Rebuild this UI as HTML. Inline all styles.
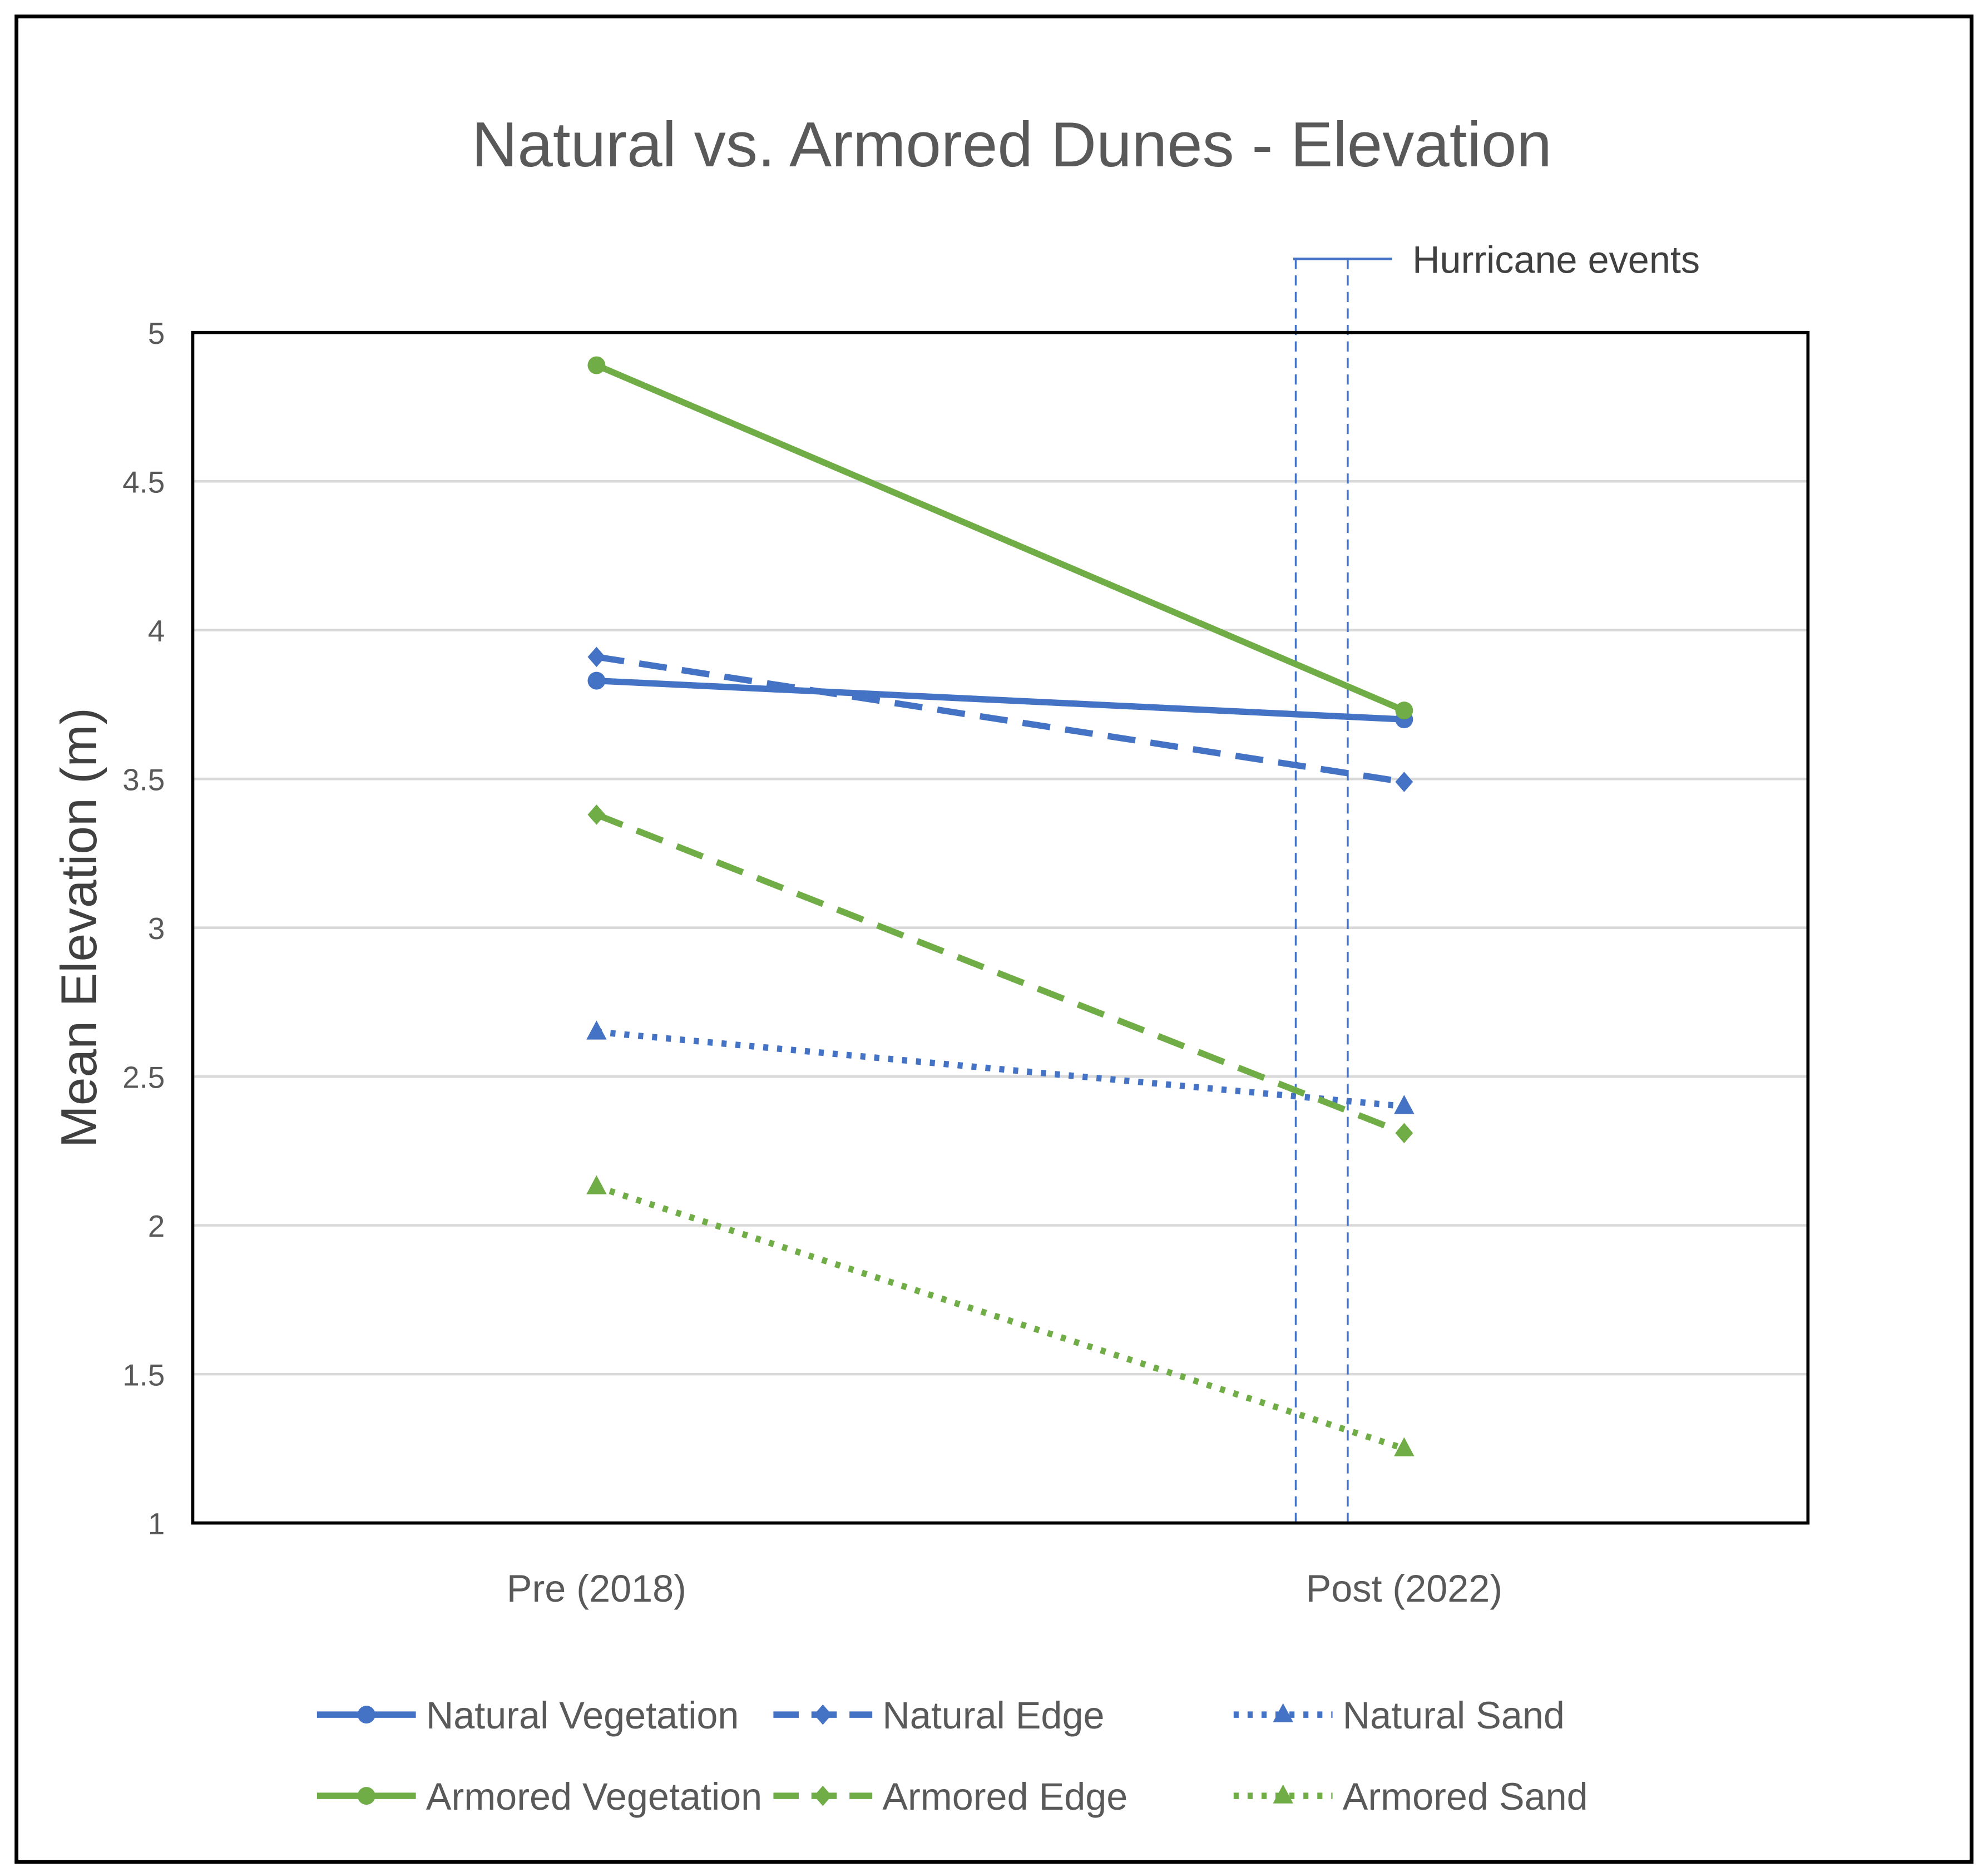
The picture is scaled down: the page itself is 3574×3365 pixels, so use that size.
<!DOCTYPE html>
<html><head><meta charset="utf-8"><style>
html,body{margin:0;padding:0;background:#fff;}
svg{display:block;}
text{font-family:"Liberation Sans",sans-serif;}
</style></head><body>
<svg id="chart" width="3574" height="3365" viewBox="0 0 1568 1475" preserveAspectRatio="none" xmlns="http://www.w3.org/2000/svg">
<rect x="13" y="13" width="1542" height="1454" fill="#fff" stroke="#000" stroke-width="3"/>
<text x="798" y="131" text-anchor="middle" font-size="50" fill="#595959" textLength="852" lengthAdjust="spacingAndGlyphs">Natural vs. Armored Dunes - Elevation</text>
<g id="grid"></g>
<g id="yticks"></g>
<g id="hurr"></g>
<g id="series"></g>
<rect x="152" y="262" width="1274" height="938" fill="none" stroke="#000" stroke-width="2.5"/>
<g id="xlabels"></g>
<text transform="translate(76,731) rotate(-90)" text-anchor="middle" font-size="40" fill="#404040">Mean Elevation (m)</text>
<g id="legend"></g>
</svg>
<script>
const categories = ["Pre (2018)", "Post (2022)"];
const yTicks = [1, 1.5, 2, 2.5, 3, 3.5, 4, 4.5, 5];
const yTickLabels = ["1", "1.5", "2", "2.5", "3", "3.5", "4", "4.5", "5"];
const seriesNames = ["Natural Vegetation", "Natural Edge", "Natural Sand", "Armored Vegetation", "Armored Edge", "Armored Sand"];
const naturalVegetation = [3.83, 3.70];
const naturalEdge = [3.91, 3.49];
const naturalSand = [2.65, 2.40];
const armoredVegetation = [4.89, 3.73];
const armoredEdge = [3.38, 2.31];
const armoredSand = [2.13, 1.25];

const NS = "http://www.w3.org/2000/svg";
const L = 152, R = 1426, T = 262, B = 1200;
const yMin = 1, yMax = 5;
const yScale = v => B - (v - yMin) / (yMax - yMin) * (B - T);
const xScale = i => L + (R - L) * (i + 0.5) / categories.length;
function mk(tag, attrs, parent) {
  const e = document.createElementNS(NS, tag);
  for (const k in attrs) e.setAttribute(k, attrs[k]);
  parent.appendChild(e);
  return e;
}
const grid = document.getElementById('grid');
const yt = document.getElementById('yticks');
yTicks.forEach((v, i) => {
  const g = mk('line', {x1: L, x2: R, y1: yScale(v), y2: yScale(v), stroke: '#d9d9d9', 'stroke-width': 2}, grid);
  
  
  const t = mk('text', {x: 130, y: yScale(v) + 9, 'text-anchor': 'end', 'font-size': 24, fill: '#595959'}, yt);
  t.textContent = yTickLabels[i];
  
  
});
const xl = document.getElementById('xlabels');
categories.forEach((c, i) => {
  const t = mk('text', {x: xScale(i), y: 1262, 'text-anchor': 'middle', 'font-size': 30, fill: '#595959'}, xl);
  t.textContent = c;
  
  
});
// hurricane marker
const h = document.getElementById('hurr');
[1022, 1063].forEach(x => {
  const l = mk('line', {x1: x, x2: x, y1: 204, y2: B, stroke: '#4472C4', 'stroke-width': 1.5, 'stroke-dasharray': '8,5'}, h);
  
  
});
const hl = mk('line', {x1: 1020, x2: 1098, y1: 204, y2: 204, stroke: '#4472C4', 'stroke-width': 2}, h);


const ht = mk('text', {x: 1114, y: 215, 'font-size': 30, fill: '#404040'}, h);
ht.textContent = 'Hurricane events';



const BLUE = '#4472C4', GREEN = '#70AD47';
const styles = [
  {c: BLUE, d: '', m: 'circle'},
  {c: BLUE, d: '22,12', m: 'diamond'},
  {c: BLUE, d: '4,7', m: 'triangle'},
  {c: GREEN, d: '', m: 'circle'},
  {c: GREEN, d: '22,12', m: 'diamond'},
  {c: GREEN, d: '4,7', m: 'triangle'}
];
const data = [naturalVegetation, naturalEdge, naturalSand, armoredVegetation, armoredEdge, armoredSand];
function marker(p, m, x, y, c) {
  let e;
  if (m === 'circle') e = mk('circle', {cx: x, cy: y, r: 7, fill: c}, p);
  else if (m === 'diamond') e = mk('polygon', {points: `${x},${y-8} ${x+7},${y} ${x},${y+8} ${x-7},${y}`, fill: c}, p);
  else e = mk('polygon', {points: `${x},${y-9} ${x+8},${y+6} ${x-8},${y+6}`, fill: c}, p);
  return e;
}
const sg = document.getElementById('series');
data.forEach((vals, s) => {
  const st = styles[s];
  const g = mk('g', {}, sg);
  
  
  const pts = vals.map((v, i) => `${xScale(i)},${yScale(v)}`).join(' ');
  const pl = mk('polyline', {points: pts, fill: 'none', stroke: st.c, 'stroke-width': 5, 'stroke-dasharray': st.d || 'none'}, g);
  
  
  vals.forEach((v, i) => {
    const m = marker(g, st.m, xScale(i), yScale(v), st.c);
    
    
  });
});
// legend
const lg = document.getElementById('legend');
const colX = [250, 610, 973];
const rowY = [1351, 1415];
seriesNames.forEach((n, s) => {
  const st = styles[s];
  const x = colX[s % 3], y = rowY[Math.floor(s / 3)];
  const g = mk('g', {}, lg);
  
  
  mk('line', {x1: x, x2: x + 78, y1: y, y2: y, stroke: st.c, 'stroke-width': 5, 'stroke-dasharray': st.d === '22,12' ? '20,10' : (st.d || 'none')}, g);
  marker(g, st.m, x + 39, y, st.c);
  const t = mk('text', {x: x + 86, y: y + 11, 'font-size': 30, fill: '#595959'}, g);
  t.textContent = n;
});
</script>
</body></html>
